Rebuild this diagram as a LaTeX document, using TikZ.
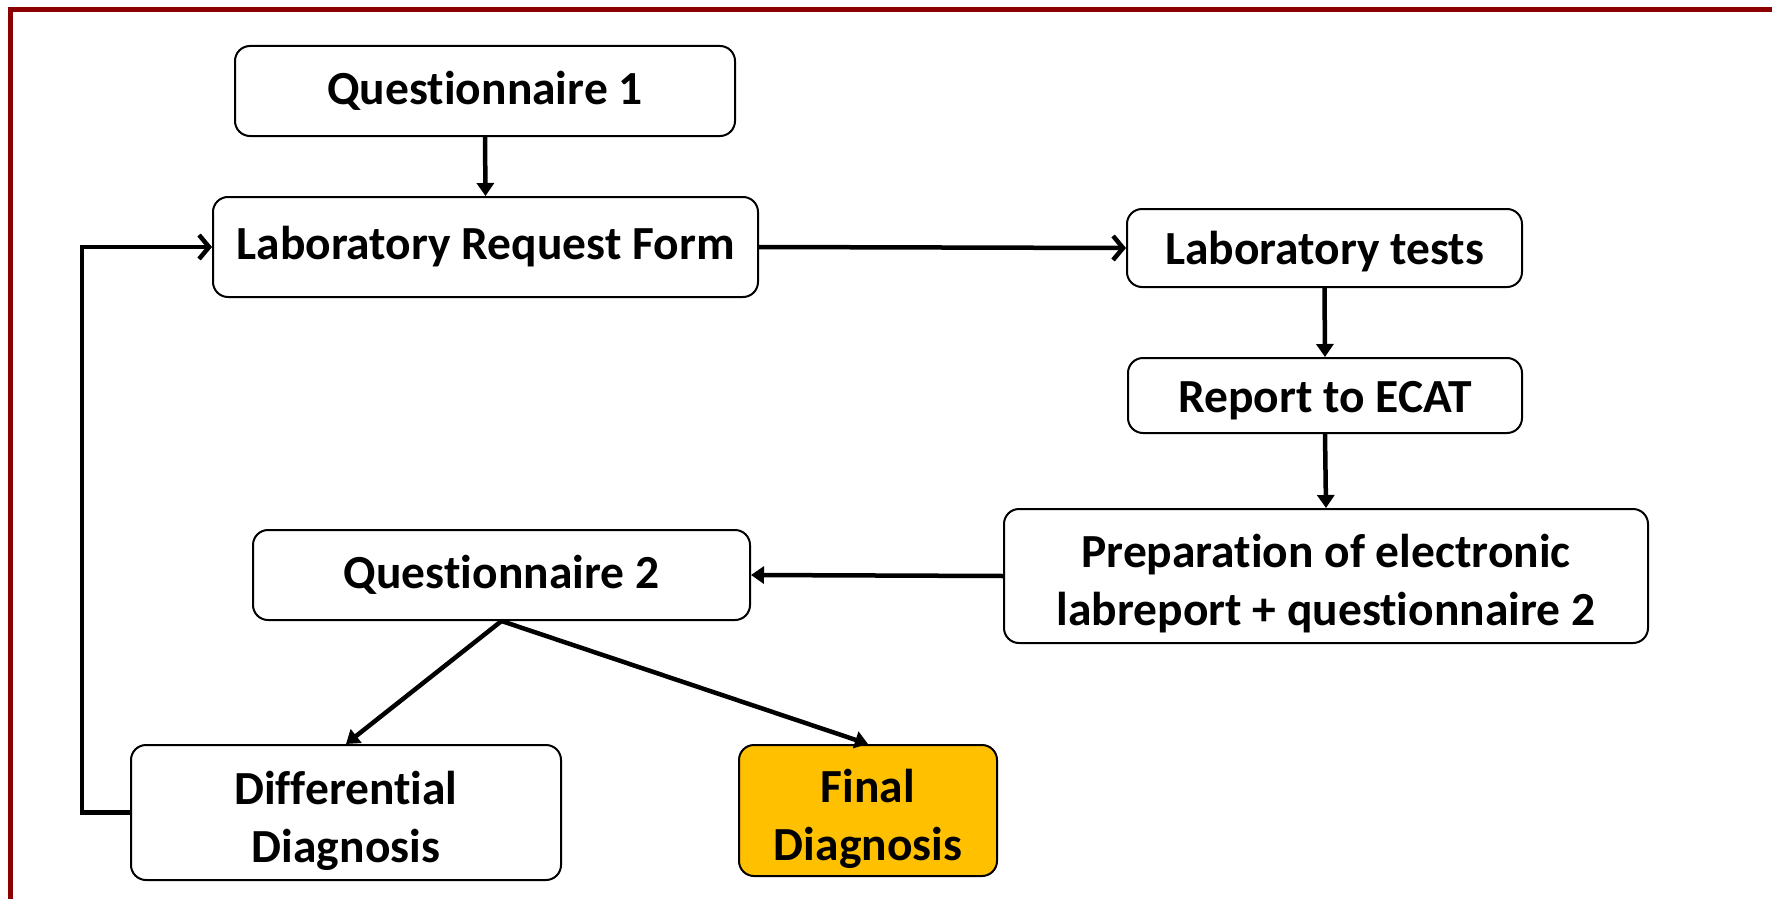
\documentclass[tikz,border=0pt]{standalone}
\usepackage{fontspec}
\setmainfont{Carlito}[Ligatures={NoCommon}]
\usetikzlibrary{arrows.meta}
\definecolor{frame}{RGB}{139,0,0}
\definecolor{gold}{RGB}{255,192,0}
\newcommand{\shiftdown}[2]{\raisebox{-#1}[\height][\depth]{#2}}
\newcommand{\twolines}[2]{\shiftdown{9pt}{\begin{tabular}{@{}c@{}}#1\\#2\end{tabular}}}
\begin{document}
\begin{tikzpicture}[x=1pt,y=-1pt,
  box/.style={draw=black, line width=2pt, rounded corners=15pt, fill=white,
    align=center, inner sep=0pt, font=\fontsize{47.5}{58}\selectfont\bfseries},
  flow/.style={line width=4.5pt, -{Triangle[length=13pt,width=17pt]}},
  barb/.style={line width=4.5pt, -{Straight Barb[length=10pt,width=24pt]}}]
\clip (0,0) rectangle (1772,899);
\fill[white] (0,0) rectangle (1772,899);
\draw[frame, line width=5pt] (10.5,950) -- (10.5,10) -- (1800,10);
\node[box, minimum width=500pt, minimum height=90pt] (q1) at (485,91) {Questionnaire 1};
\node[box, minimum width=545pt, minimum height=100pt] (lrf) at (485.5,247) {Laboratory Request Form};
\node[box, minimum width=395pt, minimum height=78pt] (lt) at (1324.5,248) {\shiftdown{4pt}{Laboratory tests}};
\node[box, minimum width=394pt, minimum height=75pt] (rep) at (1325,395.5) {\shiftdown{5pt}{Report to ECAT}};
\node[box, minimum width=644pt, minimum height=134pt] (prep) at (1326,576) {\twolines{Preparation of electronic}{labreport + questionnaire 2}};
\node[box, minimum width=497pt, minimum height=90pt] (q2) at (501.5,575) {Questionnaire 2};
\node[box, minimum width=430pt, minimum height=135pt] (dd) at (346,812.5) {\twolines{Differential}{Diagnosis}};
\node[box, fill=gold, minimum width=258pt, minimum height=131pt] (fd) at (868,810.5) {\twolines{Final}{Diagnosis}};
\draw[flow] (q1.south) -- (lrf.north);
\draw[barb] (lrf.east) -- (lt.west);
\draw[flow] (lt.south) -- (rep.north);
\draw[flow] (rep.south) -- (prep.north);
\draw[flow] (prep.west) -- (q2.east);
\draw[flow] (q2.south) -- (dd.north);
\draw[flow] (q2.south) -- (fd.north);
\draw[barb] (dd.west) -- ++(-48,0) |- (lrf.west);
\end{tikzpicture}
\end{document}
